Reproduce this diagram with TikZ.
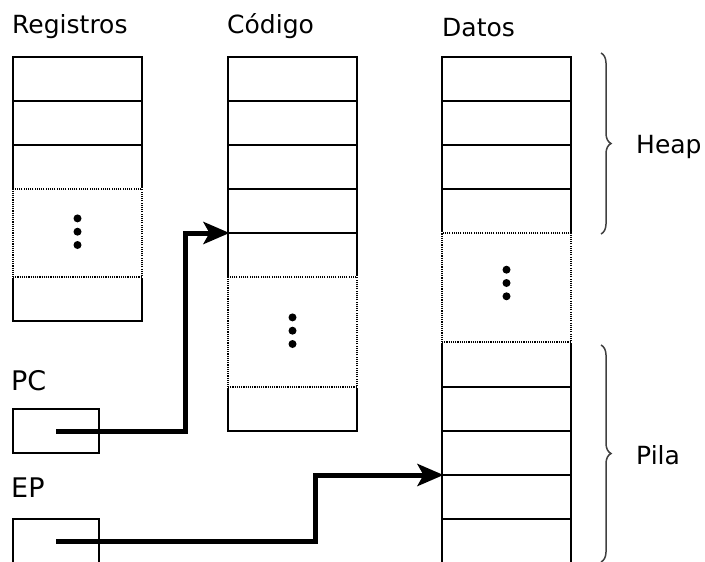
\documentclass[tikz,border=0pt]{standalone}
\usepackage{fontspec}
\setmainfont{DejaVu Sans}
\usetikzlibrary{arrows.meta,decorations.pathreplacing}
\begin{document}
\begin{tikzpicture}[x=1pt,y=-1pt,
  cell/.style={rectangle, draw=black, line width=1.1pt, minimum width=129pt,
    minimum height=#1, inner sep=0pt, outer sep=0pt, anchor=north west},
  cell/.default=44pt,
  gapcell/.style={cell=#1, preaction={draw=white, line width=2.6pt, solid},
    dash pattern=on 1.1pt off 1.1pt, line width=1.3pt},
  regbox/.style={rectangle, draw=black, line width=1.3pt, minimum width=86pt,
    minimum height=44pt, inner sep=0pt, outer sep=0pt, anchor=north west},
  lbl/.style={inner sep=0pt, anchor=base west, font=\fontsize{25}{29}\selectfont},
  biglbl/.style={lbl, font=\fontsize{27}{31}\selectfont},
  ptr/.style={line width=5pt, -{Stealth[length=26pt, width=22pt, inset=6pt]}},
  curly/.style={draw=black!75, line width=1.5pt,
    decorate, decoration={brace, amplitude=10pt}},
  vdots/.pic={
    \fill (0,-13.3) circle[radius=4pt];
    \fill (0,0) circle[radius=4pt];
    \fill (0,13.3) circle[radius=4pt];
  }]
\useasboundingbox (0,0) rectangle (705,562);
\clip (0,0) rectangle (705,562);

% titles
\node[lbl] (tr) at (12,34) {Registros};
\node[lbl] (tc) at (227,34) {Código};
\node[lbl] (td) at (442,36) {Datos};

% Registros
\node[cell] (r1) at (13,57) {};
\node[cell] (r2) at (13,101) {};
\node[cell] (r3) at (13,145) {};
\node[cell] (r5) at (13,277) {};

% Codigo
\node[cell] (c1) at (228,57) {};
\node[cell] (c2) at (228,101) {};
\node[cell] (c3) at (228,145) {};
\node[cell] (c4) at (228,189) {};
\node[cell] (c5) at (228,233) {};
\node[cell] (c7) at (228,387) {};

% Datos
\node[cell] (d1) at (442,57) {};
\node[cell] (d2) at (442,101) {};
\node[cell] (d3) at (442,145) {};
\node[cell] (d4) at (442,189) {};
\node[cell=45pt] (d6) at (442,342) {};
\node[cell] (d7) at (442,387) {};
\node[cell] (d8) at (442,431) {};
\node[cell] (d9) at (442,475) {};
\node[cell] (d10) at (442,519) {};

% dotted gaps
\node[gapcell=88pt] (r4) at (13,189) {};
\node[gapcell=110pt] (c6) at (228,277) {};
\node[gapcell=109pt] (d5) at (442,233) {};

\pic at ([yshift=1.3pt]r4.center) {vdots};
\pic at ([yshift=1.3pt]c6.center) {vdots};
\pic at ([yshift=4.5pt]d5.center) {vdots};

% registers
\node[biglbl] (lpc) at (11,390) {PC};
\node[regbox] (pc) at (13,409) {};
\node[biglbl] (lep) at (11,497) {EP};
\node[regbox] (ep) at (13,519) {};

% pointers
\draw[ptr] (pc.center) -- ++(129,0) |- ([xshift=1.5pt]c4.south west);
\draw[ptr] (ep.center) -- ++(259,0) |- ([xshift=1.5pt]d8.south west);

% braces
\coordinate (hb1) at (601,53);
\coordinate (hb2) at (601,234);
\coordinate (pb1) at (601,345);
\coordinate (pb2) at (601,562);
\draw[curly] (hb1) -- (hb2);
\draw[curly] (pb1) -- (pb2);
\node[lbl, anchor=west] (heap) at (636,147) {Heap};
\node[lbl, anchor=west] (pila) at (636,455) {Pila};
\end{tikzpicture}
\end{document}
